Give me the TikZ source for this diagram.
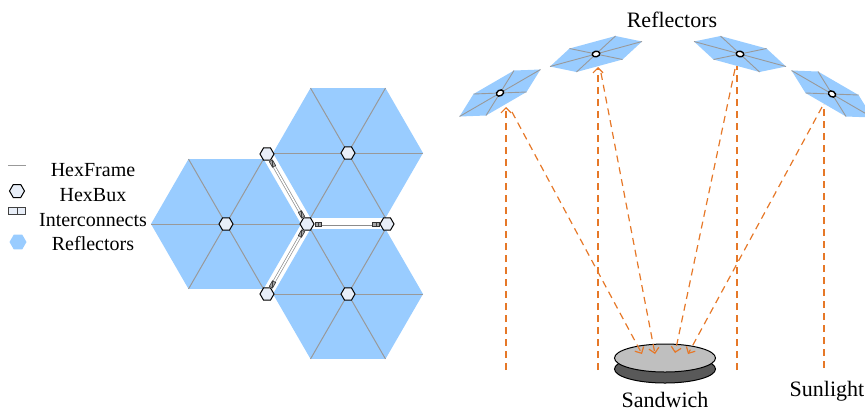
\documentclass[tikz,border=0pt]{standalone}
\usepackage{fontspec}
\setmainfont{Liberation Serif}
\usetikzlibrary{shapes.geometric,arrows.meta}

\definecolor{panel}{HTML}{99CCFF}
\definecolor{busfill}{HTML}{E8EEF8}
\definecolor{sun}{RGB}{230,120,40}

\tikzset{
  plate/.style={fill=panel},
  frame/.style={draw=black!40, line width=0.5pt},
  hexbus/.style={regular polygon, regular polygon sides=6, draw, fill=busfill,
    line width=0.5pt, minimum size=7pt, inner sep=0pt},
  link/.style={draw=black!45, line width=0.35pt, double=white, double distance=0.8pt},
  icbox/.style={rectangle, draw=black!75, fill=black!10, line width=0.3pt,
    minimum width=3.2pt, minimum height=1.8pt, inner sep=0pt,
    path picture={\draw[black!75, line width=0.3pt] (path picture bounding box.north) -- (path picture bounding box.south);}},
  ic/.style={icbox, fill=black!35, draw=black!80, sloped, allow upside down},
  hub/.style={ellipse, draw, fill=white, line width=0.7pt,
    minimum width=3.8pt, minimum height=2.8pt, inner sep=0pt},
  ray/.style={draw=sun, dash pattern=on 3.5pt off 2.5pt, line width=0.6pt},
  hit/.style={-{Straight Barb[length=2.5pt,width=5pt]}},
  legendtext/.style={font=\fontsize{10}{12}\selectfont, anchor=base, inner sep=0pt},
  captext/.style={font=\fontsize{11}{13}\selectfont, anchor=base, inner sep=0pt}
}

% tilted reflector: name, centre x/y, vertex a, vertex b, hub angle
\newcommand{\reflplate}[8]{%
  \fill[plate] ({#2+(#4)},{#3+(#5)}) -- ({#2+(#6)},{#3+(#7)})
    -- ({#2+(#6)-(#4)},{#3+(#7)-(#5)}) -- ({#2-(#4)},{#3-(#5)})
    -- ({#2-(#6)},{#3-(#7)}) -- ({#2-(#6)+(#4)},{#3-(#7)+(#5)}) -- cycle;
  \draw[frame, line width=0.45pt]
    ({#2+(#4)},{#3+(#5)}) -- ({#2-(#4)},{#3-(#5)})
    ({#2+(#6)},{#3+(#7)}) -- ({#2-(#6)},{#3-(#7)})
    ({#2+(#6)-(#4)},{#3+(#7)-(#5)}) -- ({#2-(#6)+(#4)},{#3-(#7)+(#5)});
  \node[hub, rotate=#8] (#1) at (#2,#3) {};
}

\begin{document}
\begin{tikzpicture}[x=0.5pt, y=-0.5pt]
\useasboundingbox (0,0) rectangle (865,409);

% legend
\draw[frame] (8,165) -- (26,165);
\node[legendtext] (lframe) at (93,176) {HexFrame};
\node[hexbus, minimum size=7.5pt] (lbus) at (17,191) {};
\node[legendtext] (lbustext) at (93,201) {HexBux};
\node[icbox, minimum width=8.5pt, minimum height=3.5pt, line width=0.5pt, fill=busfill] (lic) at (17,211) {};
\node[legendtext] (lictext) at (93,226) {Interconnects};
\node[regular polygon, regular polygon sides=6, fill=panel, minimum size=8.5pt, inner sep=0pt] (lrefl) at (18,242) {};
\node[legendtext] (lrefltext) at (93,250) {Reflectors};

% three hexagonal panels
\foreach \cx/\cy [count=\i] in {226/224, 348/153, 348/294} {
  \fill[plate] (\cx,\cy) ++(0:75) -- ++(120:75) -- ++(180:75) -- ++(240:75)
    -- ++(300:75) -- ++(0:75) -- cycle;
  \foreach \a in {0,60,120}
    \draw[frame] (\cx,\cy) +(\a:75) -- +(\a+180:75);
  \node[hexbus] (hub\i) at (\cx,\cy) {};
}

% buses between the panels
\node[hexbus] (bus1) at (267,154) {};
\node[hexbus] (bus2) at (307,224) {};
\node[hexbus] (bus3) at (267,294) {};
\node[hexbus] (bus4) at (387,224) {};
\draw[link] (bus1) -- node[ic, pos=0, anchor=west] {} node[ic, pos=1, anchor=east] {} (bus2);
\draw[link] (bus2) -- node[ic, pos=0, anchor=west] {} node[ic, pos=1, anchor=east] {} (bus3);
\draw[link] (bus2) -- node[ic, pos=0, anchor=west] {} node[ic, pos=1, anchor=east] {} (bus4);

% reflectors in the sky
\node[captext] (title) at (672,27) {Reflectors};
\reflplate{refl1}{500}{93}{-40.5}{23.5}{-14}{22.5}{30}
\reflplate{refl2}{596}{54}{-46}{12.5}{-19.5}{18}{12}
\reflplate{refl3}{740}{54}{-46}{-12.5}{-19.5}{-18}{-12}
\reflplate{refl4}{832}{94}{40.5}{23.5}{14}{22.5}{-30}

% sandwich
\draw[fill=black!65, line width=0.5pt] (665,369) ellipse [x radius=50.5, y radius=14];
\node[ellipse, draw, fill=black!25, line width=0.5pt, minimum width=50.5pt,
  minimum height=14pt, inner sep=0pt] (sandwich) at (665,358) {};
\node[captext] (sandtext) at (665,407) {Sandwich};
\node[captext] (suntext) at (827,396) {Sunlight};

% incoming sunlight
\coordinate (sun1) at (506,370); \coordinate (hit1) at (506,107);
\coordinate (sun2) at (598,370); \coordinate (hit2) at (598,67);
\coordinate (sun3) at (737,370); \coordinate (hit3) at (737,66);
\coordinate (sun4) at (824,368); \coordinate (hit4) at (824,104);
\draw[ray, hit] (sun1) -- (hit1);
\draw[ray, hit] (sun2) -- (hit2);
\draw[ray] (sun3) -- (hit3);
\draw[ray] (sun4) -- (hit4);

% reflected onto the sandwich
\coordinate (src1) at (512,112); \coordinate (dst1) at (642,354);
\coordinate (src2) at (601,73);  \coordinate (dst2) at (655,354);
\coordinate (src3) at (735,69);  \coordinate (dst3) at (675,353);
\coordinate (src4) at (822,107); \coordinate (dst4) at (688,354);
\foreach \i in {1,...,4}
  \draw[ray, hit] (src\i) -- (dst\i);
\end{tikzpicture}
\end{document}
